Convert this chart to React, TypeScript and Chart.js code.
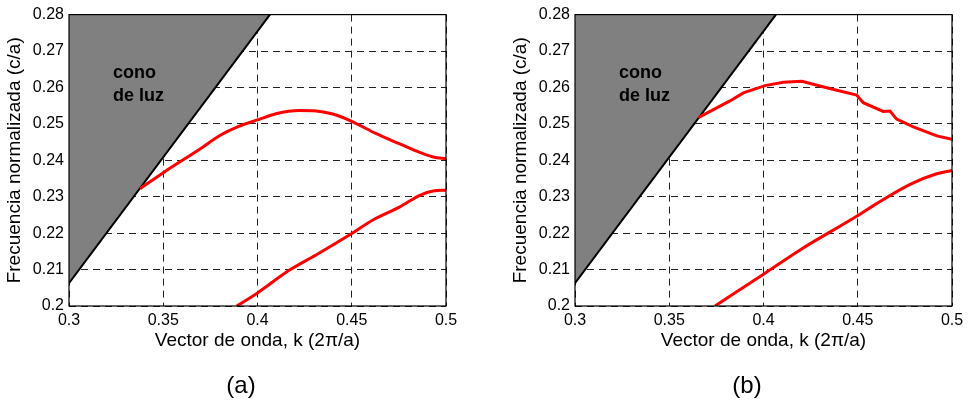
import React, { useEffect, useRef } from "react";
import { Chart, registerables } from "chart.js";
Chart.register(...registerables);

const xTicks = [0.3, 0.35, 0.4, 0.45, 0.5];
const yTicks = [0.2, 0.21, 0.22, 0.23, 0.24, 0.25, 0.26, 0.27, 0.28];
const xTitle = "Vector de onda, k (2\u03c0/a)";
const yTitle = "Frecuencia normalizada (c/a)";
const coneText = ["cono", "de luz"];

const lightConeK = [0.3, 0.4066];
const lightConeF = [0.2063, 0.28];

const aUpperK = [0.3377, 0.35, 0.3695, 0.38, 0.39, 0.4, 0.4098, 0.4221, 0.4301, 0.4399, 0.45, 0.463, 0.4755, 0.4844, 0.4932, 0.5];
const aUpperF = [0.2322, 0.2366, 0.2431, 0.2468, 0.2493, 0.2511, 0.2528, 0.2537, 0.2536, 0.2527, 0.2507, 0.2473, 0.2445, 0.2425, 0.2409, 0.2404];
const aLowerK = [0.389, 0.4, 0.4168, 0.431, 0.45, 0.4612, 0.4755, 0.4861, 0.4932, 0.5];
const aLowerF = [0.2, 0.2036, 0.2098, 0.214, 0.2199, 0.2236, 0.2272, 0.2304, 0.2316, 0.2318];

const bUpperK = [0.3654, 0.3822, 0.3893, 0.4008, 0.4105, 0.4203, 0.4335, 0.4494, 0.4529, 0.4635, 0.4671, 0.4706, 0.4795, 0.4919, 0.5];
const bUpperF = [0.2517, 0.2563, 0.2585, 0.2605, 0.2614, 0.2617, 0.2599, 0.2579, 0.2558, 0.2534, 0.2535, 0.2513, 0.2492, 0.2467, 0.2458];
const bLowerK = [0.3743, 0.4008, 0.4194, 0.4503, 0.46, 0.4778, 0.4919, 0.5];
const bLowerF = [0.2, 0.209, 0.2154, 0.2249, 0.2281, 0.2334, 0.2363, 0.2372];

const FONT = "'Liberation Sans', Arial, sans-serif";

const pts = (k: number[], f: number[]) => k.map((v, i) => ({ x: v, y: f[i] }));

type PanelProps = {
  left: number;
  width: number;
  yAxisWidth: number;
  padRight: number;
  label: string;
  labelX: number;
  upperK: number[];
  upperF: number[];
  lowerK: number[];
  lowerF: number[];
  upperSmooth: boolean;
};

function Panel(p: PanelProps) {
  const ref = useRef<HTMLCanvasElement | null>(null);
  useEffect(() => {
    if (!ref.current) return;
    const decor = {
      id: "decor",
      afterDraw(chart: any) {
        const ctx = chart.ctx;
        const a = chart.chartArea;
        ctx.save();
        ctx.strokeStyle = "#000";
        ctx.lineWidth = 1.2;
        ctx.setLineDash([]);
        ctx.strokeRect(a.left, a.top, a.right - a.left, a.bottom - a.top);
        ctx.fillStyle = "#000";
        ctx.font = `bold 18px ${FONT}`;
        ctx.textAlign = "left";
        ctx.textBaseline = "middle";
        ctx.fillText(coneText[0], a.left + 44, 73);
        ctx.fillText(coneText[1], a.left + 44, 96);
        ctx.font = `19px ${FONT}`;
        ctx.textAlign = "center";
        ctx.fillText(xTitle, (a.left + a.right) / 2, 341);
        ctx.save();
        ctx.translate(a.left - 54, (a.top + a.bottom) / 2);
        ctx.rotate(-Math.PI / 2);
        ctx.fillText(yTitle, 0, 0);
        ctx.restore();
        ctx.font = `24px ${FONT}`;
        ctx.fillText(p.label, p.labelX, 386);
        ctx.restore();
      },
    };
    const chart = new Chart(ref.current, {
      type: "scatter",
      data: {
        datasets: [
          {
            data: pts(lightConeK, lightConeF),
            showLine: true,
            borderColor: "#000",
            borderWidth: 2,
            backgroundColor: "#808080",
            fill: "end",
            pointRadius: 0,
            order: 1,
          },
          {
            data: pts(p.upperK, p.upperF),
            showLine: true,
            borderColor: "#ff0000",
            borderWidth: 3,
            pointRadius: 0,
            fill: false,
            cubicInterpolationMode: p.upperSmooth ? "monotone" : "default",
            tension: 0,
            order: 0,
          },
          {
            data: pts(p.lowerK, p.lowerF),
            showLine: true,
            borderColor: "#ff0000",
            borderWidth: 3,
            pointRadius: 0,
            fill: false,
            cubicInterpolationMode: "monotone",
            order: 0,
          },
        ],
      } as any,
      options: {
        animation: false,
        responsive: false,
        layout: { padding: { left: 0, top: 13, right: p.padRight, bottom: 0 } },
        plugins: { legend: { display: false }, tooltip: { enabled: false } },
        scales: {
          x: {
            type: "linear",
            min: 0.3,
            max: 0.5,
            afterBuildTicks: (s: any) => {
              s.ticks = xTicks.map((v) => ({ value: v }));
            },
            afterFit: (s: any) => {
              s.height = 97;
            },
            ticks: {
              color: "#000",
              font: { family: FONT, size: 16 },
              padding: 5,
              maxRotation: 0,
              autoSkip: false,
              callback: (v: any) => String(Number(v)),
            },
            grid: { color: "#222", lineWidth: 1, drawTicks: false },
            border: { display: false, dash: [7, 5] },
          },
          y: {
            type: "linear",
            min: 0.2,
            max: 0.28,
            afterBuildTicks: (s: any) => {
              s.ticks = yTicks.map((v) => ({ value: v }));
            },
            afterFit: (s: any) => {
              s.width = p.yAxisWidth;
            },
            ticks: {
              color: "#000",
              font: { family: FONT, size: 16 },
              padding: 5,
              autoSkip: false,
              callback: (v: any) => String(Number(Number(v).toFixed(2))),
            },
            grid: { color: "#222", lineWidth: 1, drawTicks: false },
            border: { display: false, dash: [7, 5] },
          },
        },
      } as any,
      plugins: [decor],
    });
    return () => chart.destroy();
  }, []);
  return (
    <canvas
      ref={ref}
      width={p.width}
      height={403}
      style={{ position: "absolute", left: p.left, top: 0, width: p.width, height: 403 }}
    />
  );
}

export default function App() {
  return (
    <div style={{ position: "absolute", left: 0, top: 0, width: 969, height: 403, background: "#fff" }}>
      <Panel
        left={0}
        width={484}
        yAxisWidth={69}
        padRight={38}
        label="(a)"
        labelX={241}
        upperK={aUpperK}
        upperF={aUpperF}
        lowerK={aLowerK}
        lowerF={aLowerF}
        upperSmooth={true}
      />
      <Panel
        left={484}
        width={485}
        yAxisWidth={91}
        padRight={17}
        label="(b)"
        labelX={263}
        upperK={bUpperK}
        upperF={bUpperF}
        lowerK={bLowerK}
        lowerF={bLowerF}
        upperSmooth={false}
      />
    </div>
  );
}
